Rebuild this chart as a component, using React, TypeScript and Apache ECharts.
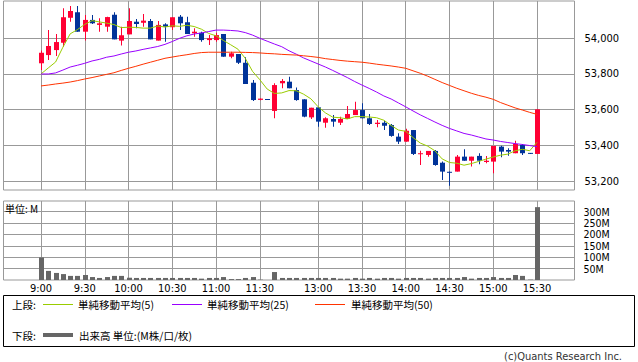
import React, { useEffect, useRef } from "react";
import * as echarts from "echarts";

// ---- Data (5-minute bars, slot 0 = 9:00, slot 68 = 15:30 close) ----
const TIME_LABELS = ["9:00", "9:30", "10:00", "10:30", "11:00", "11:30", "13:00", "13:30", "14:00", "14:30", "15:00", "15:30"];
const TIME_SLOTS = [0, 6, 12, 18, 24, 30, 38, 44, 50, 56, 62, 68];

const OPEN = [
  53860, 53906, 53934, 53975, 54115, 54146, 54037, 54103, 54075, 54065,
  54132, 53987, 54022, 54093, 54087, 54097, 53987, 54078, 54062, 54121,
  54090, 54028, 54031, 53990, 53990, 54024, 53897, 53912, 53863, 53751,
  53655, 53660, 53593, 53748, 53757, 53710, 53658, 53557, 53613, 53527,
  53548, 53527, 53548, 53570, 53598, 53552, 53520, 53527, 53514, 53449,
  53421, 53486, 53353, 53346, 53369, 53303, 53252, 53253, 53337, 53314,
  53341, 53307, 53309, 53393, 53374, 53356, 53402, 53358, 53352,
];
const CLOSE = [
  53919, 53957, 53979, 54118, 54153, 54037, 54103, 54084, 54084, 54119,
  53994, 54017, 54097, 54080, 54099, 53994, 54075, 54065, 54118, 54084,
  54024, 54037, 53990, 54000, 54018, 53897, 53916, 53863, 53744, 53654,
  53662, 53656, 53738, 53761, 53720, 53654, 53561, 53611, 53533, 53552,
  53533, 53548, 53576, 53598, 53552, 53520, 53527, 53510, 53453, 53421,
  53482, 53352, 53356, 53369, 53290, 53253, 53250, 53337, 53314, 53337,
  53314, 53314, 53397, 53365, 53365, 53408, 53356, 53356, 53602,
];
const LOW = [
  53822, 53878, 53901, 53953, 54093, 54037, 53987, 54080, 54037, 54037,
  53994, 53959, 54022, 54056, 54065, 53994, 53987, 53981, 54046, 54046,
  54024, 54009, 53981, 53962, 53981, 53897, 53888, 53856, 53744, 53649,
  53653, 53656, 53552, 53720, 53720, 53650, 53557, 53548, 53505, 53499,
  53505, 53514, 53548, 53570, 53552, 53514, 53501, 53486, 53449, 53408,
  53421, 53346, 53290, 53337, 53286, 53206, 53174, 53253, 53314, 53281,
  53294, 53300, 53244, 53333, 53342, 53356, 53346, 53354, 53352,
];
const HIGH = [
  53931, 54046, 54024, 54168, 54181, 54181, 54131, 54131, 54112, 54121,
  54146, 54065, 54168, 54108, 54136, 54108, 54097, 54084, 54118, 54131,
  54121, 54056, 54037, 54018, 54031, 54024, 53925, 53912, 53894, 53766,
  53662, 53660, 53748, 53772, 53785, 53725, 53658, 53611, 53613, 53557,
  53570, 53561, 53621, 53645, 53636, 53576, 53542, 53538, 53520, 53468,
  53493, 53486, 53370, 53369, 53374, 53309, 53253, 53346, 53378, 53337,
  53356, 53341, 53397, 53398, 53384, 53426, 53408, 53358, 53602,
];
const MA5 = [
  53800, 53834, 53867, 53950, 54025, 54049, 54078, 54099, 54092, 54085,
  54077, 54060, 54062, 54061, 54057, 54057, 54069, 54063, 54070, 54067,
  54073, 54066, 54051, 54027, 54014, 53988, 53964, 53939, 53888, 53815,
  53768, 53716, 53691, 53694, 53707, 53706, 53687, 53661, 53616, 53582,
  53558, 53555, 53548, 53561, 53561, 53559, 53555, 53541, 53512, 53486,
  53479, 53444, 53413, 53396, 53370, 53324, 53304, 53300, 53289, 53298,
  53310, 53323, 53335, 53345, 53351, 53370, 53378, 53370, 53417,
];
const MA25 = [
  53800, 53800, 53806, 53822, 53839, 53849, 53860, 53873, 53882, 53894,
  53901, 53912, 53922, 53929, 53938, 53946, 53954, 53966, 53982, 54000,
  54014, 54024, 54030, 54038, 54046, 54046, 54044, 54041, 54032, 54018,
  54000, 53984, 53968, 53953, 53930, 53911, 53890, 53873, 53856, 53839,
  53820, 53800, 53780, 53758, 53738, 53719, 53699, 53677, 53660, 53638,
  53616, 53593, 53571, 53551, 53531, 53512, 53495, 53481, 53467, 53458,
  53447, 53436, 53430, 53422, 53416, 53410, 53405, 53399, 53393,
];
const MA50 = [
  53733, 53738, 53744, 53749, 53755, 53763, 53772, 53780, 53789, 53798,
  53807, 53820, 53832, 53843, 53855, 53866, 53877, 53888, 53895, 53902,
  53908, 53915, 53920, 53922, 53922, 53922, 53922, 53922, 53921, 53920,
  53918, 53915, 53913, 53910, 53908, 53906, 53902, 53898, 53893, 53886,
  53881, 53876, 53872, 53869, 53866, 53861, 53855, 53850, 53845, 53839,
  53832, 53818, 53804, 53788, 53770, 53752, 53736, 53720, 53706, 53692,
  53680, 53670, 53658, 53640, 53625, 53610, 53598, 53585, 53574,
];
// volume in millions
const VOLUME = [
  99, 40, 31, 26, 18, 18, 22, 13, 9, 13,
  18, 18, 10, 9, 9, 9, 9, 9, 9, 9,
  9, 9, 6, 9, 9, 13, 4, 4, 9, 13,
  1.5, 0, 35, 9, 9, 9, 9, 9, 9, 9,
  9, 6, 6, 9, 6, 9, 6, 9, 9, 6,
  9, 9, 9, 6, 9, 9, 9, 9, 13, 6,
  9, 9, 13, 9, 9, 22, 18, 1.5, 320,
];
const PRICE_TICKS = [53200, 53400, 53600, 53800, 54000];
const VOLUME_TICKS = [50, 100, 150, 200, 250, 300];

const UP = "#ff0033";
const DOWN = "#003399";
const C_MA5 = "#99cc00";
const C_MA25 = "#9900ff";
const C_MA50 = "#ff3300";
const C_VOL = "#666666";
const GRID = "#999999";
const NUM_FONT = "'DejaVu Sans Condensed', 'DejaVu Sans', sans-serif";
const JP_FONT = "'Noto Sans CJK JP', sans-serif";

const X_MIN = -5.141;
const X_MAX = 73.141;

function fmtPrice(v: number) {
  return String(v).replace(/\B(?=(\d{3})+(?!\d))/g, ",");
}

export default function App() {
  const ref = useRef<HTMLDivElement>(null);
  useEffect(() => {
    if (!ref.current) return;
    const chart = echarts.init(ref.current, null, { renderer: "svg" });
    const candleData = OPEN.map((o, i) => [i, o, CLOSE[i], LOW[i], HIGH[i]]);
    const volData = VOLUME.map((v, i) => [i, v]);

    const xCommon = (grid: number, labels: boolean) => ({
      type: "value",
      gridIndex: grid,
      min: X_MIN,
      max: X_MAX,
      axisLine: { show: false },
      axisTick: { show: false, customValues: TIME_SLOTS },
      axisLabel: labels
        ? {
            show: true,
            customValues: TIME_SLOTS,
            formatter: (v: number) => TIME_LABELS[TIME_SLOTS.indexOf(v)] ?? "",
            margin: 3,
            color: "#000",
            fontSize: 11,
            fontFamily: NUM_FONT,
          }
        : { show: false },
      splitLine: { show: true, lineStyle: { color: GRID, width: 1 } },
    });

    chart.setOption({
      animation: false,
      backgroundColor: "#fff",
      grid: [
        { left: 3.5, top: 1, width: 571, height: 189, show: true, borderColor: GRID, borderWidth: 1, backgroundColor: "transparent" },
        { left: 3.5, top: 201, width: 571, height: 79, show: true, borderColor: GRID, borderWidth: 1, backgroundColor: "transparent" },
      ],
      xAxis: [xCommon(0, false), xCommon(1, true)],
      yAxis: [
        {
          type: "value",
          gridIndex: 0,
          position: "right",
          min: 53150,
          max: 54209,
          axisLine: { show: false },
          axisTick: { show: true, length: 5, customValues: PRICE_TICKS, lineStyle: { color: GRID } },
          axisLabel: { customValues: PRICE_TICKS, formatter: fmtPrice, margin: 10, color: "#000", fontSize: 11, fontFamily: NUM_FONT },
          splitLine: { show: true, lineStyle: { color: GRID, width: 1 } },
        },
        {
          type: "value",
          gridIndex: 1,
          position: "right",
          min: 0,
          max: 347,
          axisLine: { show: false },
          axisTick: { show: true, length: 5, customValues: VOLUME_TICKS, lineStyle: { color: GRID } },
          axisLabel: {
            customValues: VOLUME_TICKS,
            formatter: (v: number) => v + "M",
            margin: 9,
            color: "#000",
            fontSize: 10.5,
            lineHeight: 9,
            hideOverlap: false,
            fontFamily: NUM_FONT,
          },
          splitLine: { show: true, lineStyle: { color: GRID, width: 1 } },
        },
      ],
      series: [
        {
          type: "custom",
          xAxisIndex: 0,
          yAxisIndex: 0,
          z: 2,
          data: candleData,
          encode: { x: 0, y: [1, 2, 3, 4] },
          renderItem: (params: any, api: any) => {
            const i = api.value(0);
            const o = api.value(1);
            const c = api.value(2);
            const l = api.value(3);
            const h = api.value(4);
            const pO = api.coord([i, o]);
            const pC = api.coord([i, c]);
            const pL = api.coord([i, l]);
            const pH = api.coord([i, h]);
            const color = c >= o ? UP : DOWN;
            const cx = Math.round(pO[0]);
            const top = Math.min(pO[1], pC[1]);
            const bot = Math.max(pO[1], pC[1]);
            return {
              type: "group",
              children: [
                { type: "rect", shape: { x: cx, y: pH[1], width: 1, height: Math.max(1, pL[1] - pH[1]) }, style: { fill: color } },
                { type: "rect", shape: { x: cx - 2, y: top, width: 5, height: Math.max(1, bot - top) }, style: { fill: color } },
              ],
            };
          },
        },
        { type: "line", xAxisIndex: 0, yAxisIndex: 0, z: 3, data: MA5.map((v, i) => [i, v]), symbol: "none", lineStyle: { color: C_MA5, width: 1 } },
        { type: "line", xAxisIndex: 0, yAxisIndex: 0, z: 3, data: MA25.map((v, i) => [i, v]), symbol: "none", lineStyle: { color: C_MA25, width: 1 } },
        { type: "line", xAxisIndex: 0, yAxisIndex: 0, z: 3, data: MA50.map((v, i) => [i, v]), symbol: "none", lineStyle: { color: C_MA50, width: 1 } },
        {
          type: "custom",
          xAxisIndex: 1,
          yAxisIndex: 1,
          z: 2,
          data: volData,
          encode: { x: 0, y: 1 },
          renderItem: (params: any, api: any) => {
            const i = api.value(0);
            const v = api.value(1);
            const p = api.coord([i, v]);
            const p0 = api.coord([i, 0]);
            const cx = Math.round(p[0]);
            return { type: "rect", shape: { x: cx - 2, y: p[1], width: 5, height: Math.max(0, p0[1] - p[1]) }, style: { fill: C_VOL } };
          },
        },
      ],
      graphic: [
        { type: "text", left: 5, top: 203, style: { text: "単位: M", fontSize: 10, fontFamily: JP_FONT, fill: "#000" }, z: 10 },
        { type: "rect", shape: { x: 3.5, y: 295.5, width: 631, height: 51 }, style: { fill: "none", stroke: "#000", lineWidth: 1 } },
        { type: "text", x: 12, y: 304, style: { text: "上段:", fontSize: 10.5, fontFamily: JP_FONT, fill: "#000", verticalAlign: "middle" } },
        { type: "line", shape: { x1: 43, y1: 304.5, x2: 73, y2: 304.5 }, style: { stroke: C_MA5, lineWidth: 1 } },
        { type: "text", x: 78, y: 304, style: { text: "単純移動平均(5)", fontSize: 10.5, fontFamily: JP_FONT, fill: "#000", verticalAlign: "middle" } },
        { type: "line", shape: { x1: 172, y1: 304.5, x2: 202, y2: 304.5 }, style: { stroke: C_MA25, lineWidth: 1 } },
        { type: "text", x: 207, y: 304, style: { text: "単純移動平均(25)", fontSize: 10.5, fontFamily: JP_FONT, fill: "#000", verticalAlign: "middle" } },
        { type: "line", shape: { x1: 315, y1: 304.5, x2: 345, y2: 304.5 }, style: { stroke: C_MA50, lineWidth: 1 } },
        { type: "text", x: 351, y: 304, style: { text: "単純移動平均(50)", fontSize: 10.5, fontFamily: JP_FONT, fill: "#000", verticalAlign: "middle" } },
        { type: "text", x: 12, y: 335, style: { text: "下段:", fontSize: 10.5, fontFamily: JP_FONT, fill: "#000", verticalAlign: "middle" } },
        { type: "line", shape: { x1: 43, y1: 335, x2: 73, y2: 335 }, style: { stroke: C_VOL, lineWidth: 4 } },
        { type: "text", x: 79, y: 335, style: { text: "出来高 単位:(M株/口/枚)", fontSize: 10.5, fontFamily: JP_FONT, fill: "#000", verticalAlign: "middle" } },
        { type: "text", x: 622, y: 356, style: { text: "(c)Quants Research Inc.", fontSize: 11, fontFamily: NUM_FONT, fill: "#333", align: "right", verticalAlign: "middle" } },
      ],
    });
    return () => chart.dispose();
  }, []);
  return <div ref={ref} style={{ position: "absolute", left: 0, top: 0, width: 638, height: 362, background: "#fff" }} />;
}
